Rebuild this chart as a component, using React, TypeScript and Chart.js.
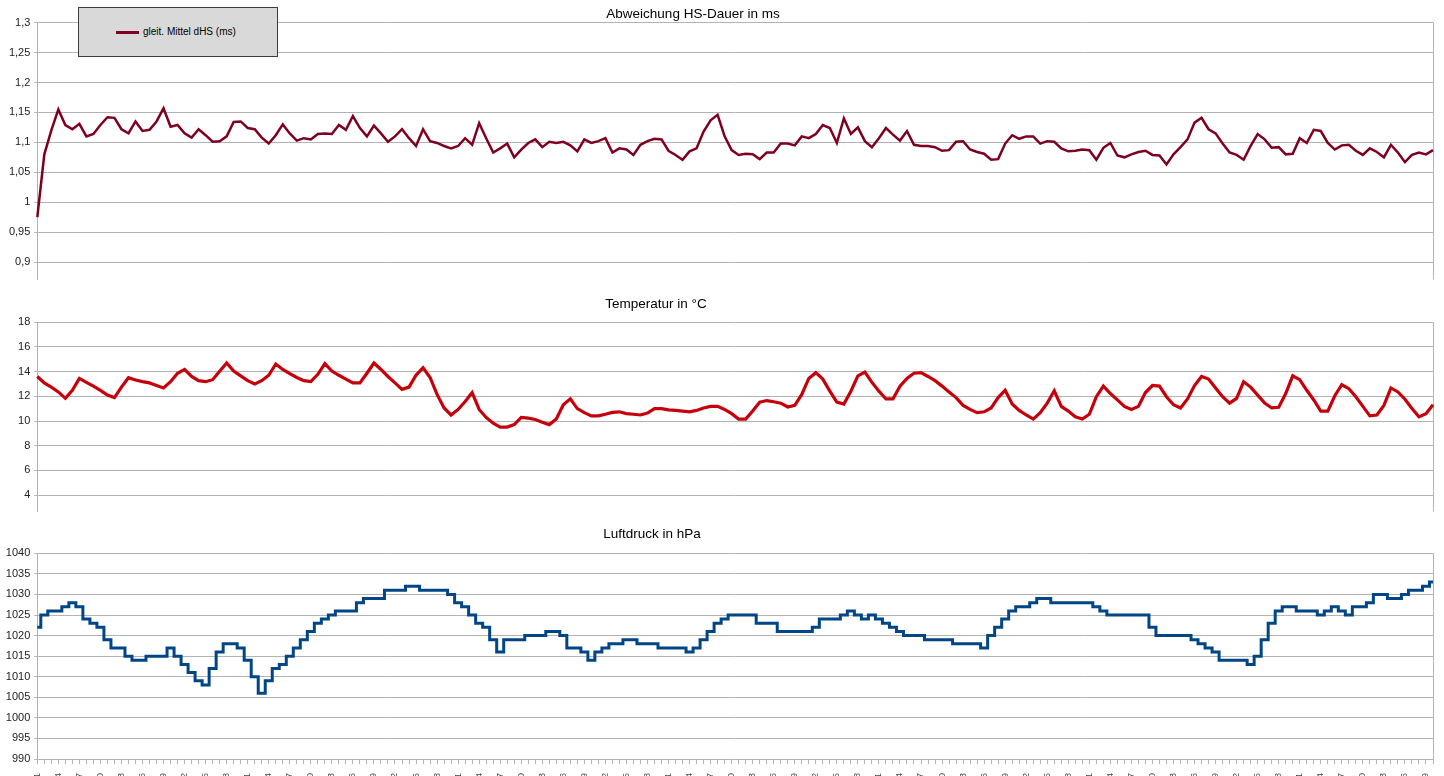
import React, { useEffect, useRef } from "react";
import { Chart, registerables, ChartConfiguration, Plugin } from "chart.js";

Chart.register(...registerables);

// one label per sample (the axis labels are cut off at the bottom of the picture)
const samples = Array.from({ length: 200 }, (_, i) => String(i + 1));

const dhsValues = [
  0.975, 1.08, 1.12, 1.155, 1.129, 1.122, 1.131, 1.11, 1.114, 1.129,
  1.142, 1.141, 1.122, 1.115, 1.135, 1.119, 1.121, 1.135, 1.157, 1.126,
  1.129, 1.115, 1.108, 1.122, 1.112, 1.101, 1.102, 1.11, 1.134, 1.135,
  1.124, 1.122, 1.108, 1.098, 1.112, 1.13, 1.115, 1.103, 1.107, 1.105,
  1.114, 1.115, 1.114, 1.129, 1.121, 1.144, 1.124, 1.11, 1.128, 1.115,
  1.101, 1.11, 1.122, 1.107, 1.094, 1.122, 1.102, 1.099, 1.094, 1.09,
  1.094, 1.107, 1.096, 1.132, 1.107, 1.083, 1.09, 1.098, 1.075, 1.088,
  1.099, 1.105, 1.092, 1.101, 1.099, 1.101, 1.095, 1.085, 1.105, 1.099,
  1.102, 1.107, 1.083, 1.09, 1.088, 1.079, 1.096, 1.102, 1.106, 1.105,
  1.086, 1.079, 1.071, 1.085, 1.09, 1.118, 1.137, 1.146, 1.11, 1.087,
  1.079, 1.081, 1.08, 1.072, 1.083, 1.083, 1.098, 1.098, 1.095, 1.11,
  1.107, 1.114, 1.129, 1.124, 1.099, 1.14, 1.114, 1.125, 1.102, 1.092,
  1.107, 1.124, 1.113, 1.103, 1.119, 1.096, 1.094, 1.094, 1.092, 1.086,
  1.087, 1.101, 1.102, 1.088, 1.084, 1.081, 1.071, 1.072, 1.098, 1.112,
  1.106, 1.11, 1.11, 1.098, 1.102, 1.101, 1.09, 1.085, 1.086, 1.088,
  1.087, 1.071, 1.091, 1.099, 1.078, 1.075, 1.08, 1.084, 1.086, 1.079,
  1.078, 1.063, 1.08, 1.092, 1.105, 1.133, 1.141, 1.122, 1.115, 1.098,
  1.083, 1.079, 1.071, 1.094, 1.114, 1.105, 1.091, 1.092, 1.08, 1.081,
  1.107, 1.099, 1.121, 1.119, 1.099, 1.088, 1.095, 1.096, 1.086, 1.079,
  1.09, 1.084, 1.075, 1.096, 1.083, 1.067, 1.079, 1.083, 1.08, 1.087,
];

const temperatureValues = [
  13.61, 13.09, 12.75, 12.36, 11.84, 12.49, 13.45, 13.14, 12.83, 12.49,
  12.1, 11.9, 12.75, 13.51, 13.32, 13.19, 13.09, 12.88, 12.68, 13.19,
  13.87, 14.18, 13.61, 13.27, 13.19, 13.35, 14.03, 14.7, 14.05, 13.66,
  13.27, 13.01, 13.27, 13.71, 14.62, 14.18, 13.84, 13.53, 13.27, 13.19,
  13.79, 14.65, 14.05, 13.71, 13.4, 13.09, 13.09, 13.87, 14.7, 14.18,
  13.61, 13.09, 12.57, 12.75, 13.71, 14.31, 13.53, 12.16, 11.06, 10.49,
  10.94, 11.58, 12.3, 10.94, 10.29, 9.82, 9.51, 9.51, 9.71, 10.29,
  10.23, 10.13, 9.9, 9.71, 10.16, 11.32, 11.8, 11.01, 10.68, 10.42,
  10.42, 10.55, 10.7, 10.75, 10.6, 10.55, 10.49, 10.65, 11.01, 11.01,
  10.91, 10.86, 10.81, 10.75, 10.86, 11.06, 11.19, 11.19, 10.94, 10.6,
  10.16, 10.16, 10.81, 11.53, 11.66, 11.56, 11.45, 11.14, 11.27, 12.16,
  13.45, 13.92, 13.4, 12.42, 11.53, 11.38, 12.42, 13.66, 13.97, 13.14,
  12.42, 11.79, 11.79, 12.83, 13.45, 13.87, 13.92, 13.61, 13.27, 12.83,
  12.36, 11.9, 11.27, 10.94, 10.68, 10.75, 11.06, 11.9, 12.49, 11.38,
  10.86, 10.49, 10.16, 10.68, 11.45, 12.45, 11.19, 10.81, 10.34, 10.16,
  10.55, 11.97, 12.83, 12.23, 11.71, 11.19, 10.94, 11.19, 12.31, 12.88,
  12.83, 11.97, 11.32, 11.06, 11.79, 12.88, 13.61, 13.4, 12.68, 11.97,
  11.45, 11.84, 13.19, 12.75, 12.1, 11.45, 11.06, 11.12, 12.23, 13.66,
  13.35, 12.49, 11.71, 10.81, 10.81, 12.05, 12.94, 12.62, 11.97, 11.19,
  10.42, 10.49, 11.27, 12.68, 12.36, 11.77, 11.01, 10.34, 10.6, 11.32,
];

const pressureValues = [
  1022, 1025, 1026, 1026, 1027, 1028, 1027, 1024, 1023, 1022,
  1019, 1017, 1017, 1015, 1014, 1014, 1015, 1015, 1015, 1017,
  1015, 1013, 1011, 1009, 1008, 1012, 1016, 1018, 1018, 1017,
  1014, 1010, 1006, 1009, 1012, 1013, 1015, 1017, 1019, 1021,
  1023, 1024, 1025, 1026, 1026, 1026, 1028, 1029, 1029, 1029,
  1031, 1031, 1031, 1032, 1032, 1031, 1031, 1031, 1031, 1030,
  1028, 1027, 1025, 1023, 1022, 1019, 1016, 1019, 1019, 1019,
  1020, 1020, 1020, 1021, 1021, 1020, 1017, 1017, 1016, 1014,
  1016, 1017, 1018, 1018, 1019, 1019, 1018, 1018, 1018, 1017,
  1017, 1017, 1017, 1016, 1017, 1019, 1021, 1023, 1024, 1025,
  1025, 1025, 1025, 1023, 1023, 1023, 1021, 1021, 1021, 1021,
  1021, 1022, 1024, 1024, 1024, 1025, 1026, 1025, 1024, 1025,
  1024, 1023, 1022, 1021, 1020, 1020, 1020, 1019, 1019, 1019,
  1019, 1018, 1018, 1018, 1018, 1017, 1020, 1022, 1024, 1026,
  1027, 1027, 1028, 1029, 1029, 1028, 1028, 1028, 1028, 1028,
  1028, 1027, 1026, 1025, 1025, 1025, 1025, 1025, 1025, 1022,
  1020, 1020, 1020, 1020, 1020, 1019, 1018, 1017, 1016, 1014,
  1014, 1014, 1014, 1013, 1015, 1019, 1023, 1026, 1027, 1027,
  1026, 1026, 1026, 1025, 1026, 1027, 1026, 1025, 1027, 1027,
  1028, 1030, 1030, 1029, 1029, 1030, 1031, 1031, 1032, 1033,
];

const dhsTicks = [0.9, 0.95, 1, 1.05, 1.1, 1.15, 1.2, 1.25, 1.3];
const temperatureTicks = [4, 6, 8, 10, 12, 14, 16, 18];
const pressureTicks = [990, 995, 1000, 1005, 1010, 1015, 1020, 1025, 1030, 1035, 1040];

const GRID = "#b3b3b3";
const FONT = "'Liberation Sans', Arial, sans-serif";

// vertical line closing the plot area on the right
const rightFrame: Plugin = {
  id: "rightFrame",
  beforeDatasetsDraw(chart) {
    const { ctx, chartArea } = chart;
    ctx.save();
    ctx.strokeStyle = GRID;
    ctx.lineWidth = 1;
    ctx.beginPath();
    ctx.moveTo(chartArea.right + 0.5, chartArea.top);
    ctx.lineTo(chartArea.right + 0.5, chartArea.bottom);
    ctx.stroke();
    ctx.restore();
  },
};

type PanelProps = {
  top: number;
  height: number;
  label: string;
  values: number[];
  color: string;
  lineWidth: number;
  stepped?: boolean;
  yMin: number;
  yMax: number;
  yTicks: number[];
  padTop: number;
  padBottom: number;
  xAxis?: boolean;
};

const Panel = (p: PanelProps) => {
  const chartRef = useRef<HTMLCanvasElement>(null);

  useEffect(() => {
    const ctx = chartRef.current!.getContext("2d");
    if (!ctx) return;

    const config: ChartConfiguration<"line"> = {
      type: "line",
      data: {
        labels: samples,
        datasets: [
          {
            label: p.label,
            data: p.values,
            borderColor: p.color,
            backgroundColor: p.color,
            borderWidth: p.lineWidth,
            pointRadius: 0,
            tension: 0,
            stepped: p.stepped ? "middle" : false,
          },
        ],
      },
      options: {
        responsive: false,
        animation: false,
        layout: {
          padding: { top: p.padTop, bottom: p.padBottom, left: 0, right: 11 },
        },
        plugins: {
          legend: { display: false },
          tooltip: { enabled: false },
        },
        scales: {
          x: p.xAxis
            ? {
                display: true,
                grid: {
                  display: true,
                  drawOnChartArea: false,
                  drawTicks: true,
                  tickLength: 5,
                  color: GRID,
                },
                border: { display: true, color: GRID },
                ticks: {
                  autoSkip: false,
                  minRotation: 90,
                  maxRotation: 90,
                  padding: 9,
                  color: "#444",
                  font: { family: FONT, size: 9 },
                  callback: (_v, index) => (index % 3 === 0 ? samples[index] : ""),
                },
                afterFit: (scale) => {
                  scale.height = 60;
                  scale.paddingLeft = 0;
                  scale.paddingRight = 0;
                },
              }
            : { display: false },
          y: {
            min: p.yMin,
            max: p.yMax,
            grid: { color: GRID, tickLength: 3 },
            border: { display: true, color: GRID },
            ticks: {
              padding: 4,
              color: "#222",
              font: { family: FONT, size: 11 },
              callback: (v) => String(v).replace(".", ","),
            },
            afterBuildTicks: (scale) => {
              scale.ticks = p.yTicks.map((value) => ({ value }));
            },
            afterFit: (scale) => {
              scale.width = 37.3;
            },
          },
        },
      },
      plugins: [rightFrame],
    };

    const chart = new Chart(ctx, config);
    return () => {
      chart.destroy();
    };
  }, []);

  return (
    <canvas
      ref={chartRef}
      width={1444}
      height={p.height}
      style={{ position: "absolute", left: 0, top: p.top, width: 1444, height: p.height }}
    />
  );
};

const titleStyle = (cx: number, cy: number): React.CSSProperties => ({
  position: "absolute",
  left: cx,
  top: cy - 8,
  transform: "translateX(-50%)",
  font: `13.5px ${FONT}`,
  color: "#000",
  whiteSpace: "nowrap",
  lineHeight: "16px",
});

export default function App() {
  return (
    <div
      style={{
        position: "fixed",
        left: 0,
        top: 0,
        width: 1444,
        height: 776,
        overflow: "hidden",
        background: "#fff",
      }}
    >
      <Panel
        top={0}
        height={290}
        label="gleit. Mittel dHS (ms)"
        values={dhsValues}
        color="#7e0021"
        lineWidth={2.5}
        yMin={0.871}
        yMax={1.3}
        yTicks={dhsTicks}
        padTop={22.7}
        padBottom={2}
      />
      <Panel
        top={290}
        height={232}
        label="Temperatur"
        values={temperatureValues}
        color="#c5000b"
        lineWidth={3.2}
        yMin={2.68}
        yMax={18}
        yTicks={temperatureTicks}
        padTop={32.3}
        padBottom={2.7}
      />
      <Panel
        top={522}
        height={330}
        label="Luftdruck"
        values={pressureValues}
        color="#004586"
        lineWidth={3}
        stepped
        yMin={990}
        yMax={1040}
        yTicks={pressureTicks}
        padTop={31.3}
        padBottom={33}
        xAxis
      />

      <div style={titleStyle(693, 14)}>Abweichung HS-Dauer in ms</div>
      <div style={titleStyle(656, 304)}>Temperatur in °C</div>
      <div style={titleStyle(652, 534)}>Luftdruck in hPa</div>

      <div
        style={{
          position: "absolute",
          left: 78,
          top: 7,
          width: 198,
          height: 48,
          background: "#d9d9d9",
          border: "1px solid #3c3c3c",
        }}
      >
        <div
          style={{
            position: "absolute",
            left: 37,
            top: 23,
            width: 23,
            height: 3,
            background: "#7e0021",
          }}
        />
        <div
          style={{
            position: "absolute",
            left: 64,
            top: 18,
            font: `10px ${FONT}`,
            lineHeight: "12px",
            color: "#000",
            whiteSpace: "nowrap",
          }}
        >
          gleit. Mittel dHS (ms)
        </div>
      </div>
    </div>
  );
}
